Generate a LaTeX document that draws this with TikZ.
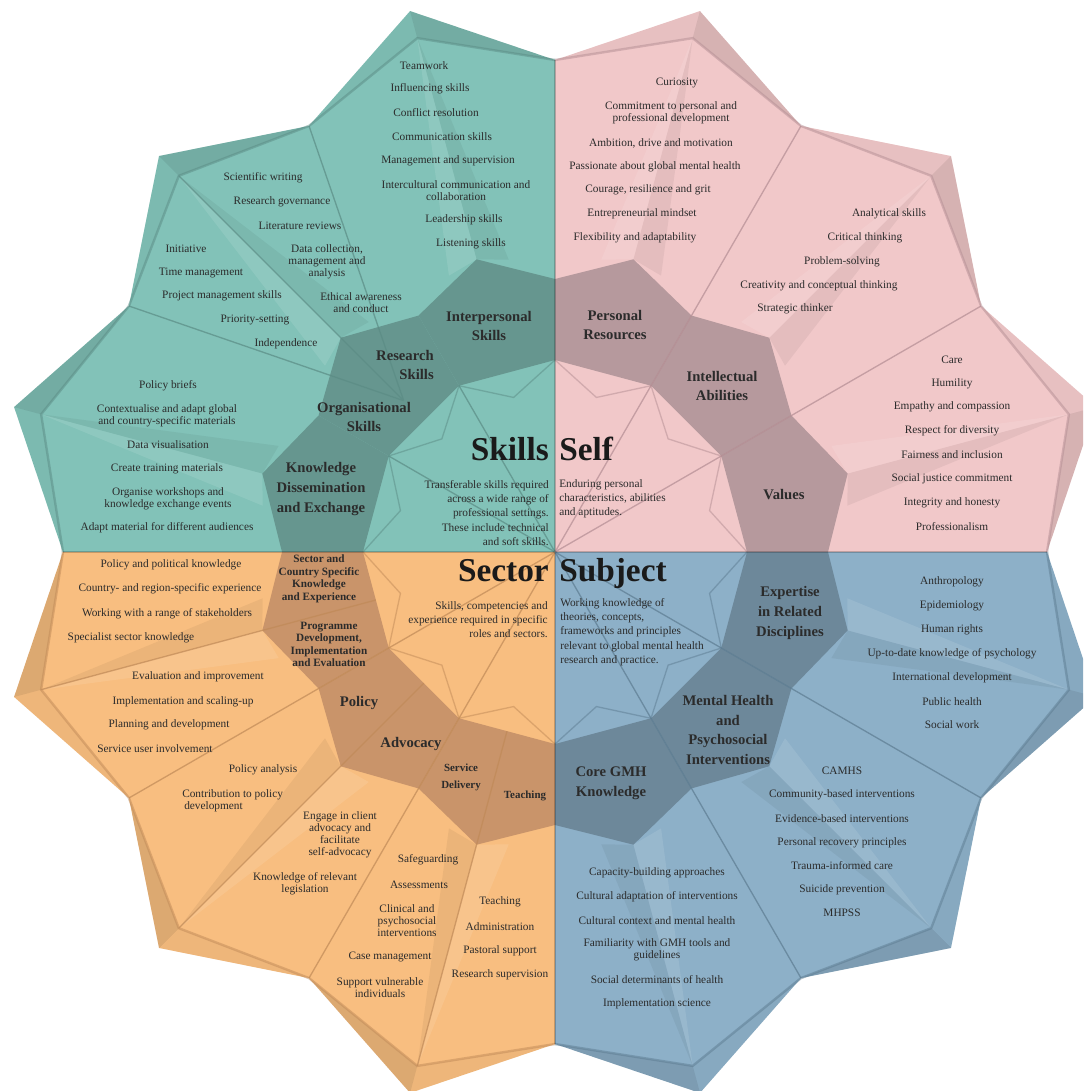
\documentclass[tikz,border=0pt]{standalone}
\usepackage{fontspec}
\setmainfont{Liberation Serif}
\definecolor{tealB}{HTML}{82C2B8}
\definecolor{tealR}{HTML}{66968F}
\definecolor{tealL}{HTML}{5B8C85}
\definecolor{pinkB}{HTML}{F1C8C9}
\definecolor{pinkR}{HTML}{B6999D}
\definecolor{pinkL}{HTML}{B38D93}
\definecolor{orngB}{HTML}{F8BE80}
\definecolor{orngR}{HTML}{C9946A}
\definecolor{orngL}{HTML}{C08A58}
\definecolor{blueB}{HTML}{8DB0C8}
\definecolor{blueR}{HTML}{6D889A}
\definecolor{blueL}{HTML}{5D7C91}
\definecolor{txt}{HTML}{2B2B2B}
\definecolor{hd}{HTML}{1A1A1A}
\begin{document}
\begin{tikzpicture}[x=0.75pt,y=-0.75pt,
  item/.style={font=\fontsize{8.5}{9}\selectfont, text=txt, inner sep=0pt, align=center},
  cat/.style={font=\bfseries\fontsize{11}{14.7}\selectfont, text=txt, inner sep=0pt, align=center},
  scat/.style={font=\bfseries\fontsize{8.4}{9.4}\selectfont, text=txt, inner sep=0pt, align=center},
  head/.style={font=\bfseries\fontsize{25}{28}\selectfont, text=hd, inner sep=0pt},
  desc/.style={font=\fontsize{8.5}{10.7}\selectfont, text=txt, inner sep=0pt},
  fold/.style={line width=1pt, line join=round, opacity=.7},
  rimline/.style={line width=1.8pt, line join=round, opacity=.5},
]
\useasboundingbox (0,0) rectangle (1083,1091);
\fill[white] (0,0) rectangle (1083,1091);
\begin{scope}
\clip (0,0) rectangle (1083,1091);
% ---------- geometry ----------
\begin{scope}[shift={(555,552)},yscale=-1]
\coordinate (O) at (0,0);
\foreach \k in {0,...,12}{
  \coordinate (V\k) at ({30*\k}:492);
  \coordinate (RO\k) at ({30*\k}:273);
  \coordinate (RI\k) at ({30*\k}:192);
}
\foreach \k in {0,...,11}{
  \coordinate (A\k) at ({30*\k+15}:560);
  \coordinate (I\k) at ({30*\k+15}:532);
  \coordinate (RA\k) at ({30*\k+15}:303);
  \coordinate (RM\k) at ({30*\k+15}:185.5);
  \coordinate (Z\k) at ({30*\k+15}:160);
  \coordinate (WL\k) at ({30*\k+21}:296);
  \coordinate (WD\k) at ({30*\k+9}:296);
}
\coordinate (P) at (135:214);
\end{scope}
% ---------- quadrant fills ----------
\fill[pinkB] (O)--(V0)--(A0)--(V1)--(A1)--(V2)--(A2)--(V3)--cycle;
\fill[tealB] (O)--(V3)--(A3)--(V4)--(A4)--(V5)--(A5)--(V6)--cycle;
\fill[orngB] (O)--(V6)--(A6)--(V7)--(A7)--(V8)--(A8)--(V9)--cycle;
\fill[blueB] (O)--(V9)--(A9)--(V10)--(A10)--(V11)--(A11)--(V12)--cycle;
% ---------- rim and ridge shading ----------
\foreach \k in {0,...,11}{
  \pgfmathtruncatemacro\n{\k+1}
  \fill[black,opacity=.11] (V\k)--(A\k)--(I\k)--cycle;
  \fill[black,opacity=.04] (I\k)--(A\k)--(V\n)--cycle;
  \fill[white,opacity=.10] (I\k)--(RA\k)--(WL\k)--cycle;
  \fill[black,opacity=.05] (I\k)--(RA\k)--(WD\k)--cycle;
}
% ---------- inner ring ----------
\foreach \k/\c in {0/pinkR,1/pinkR,2/pinkR,3/tealR,4/tealR,5/tealR,6/orngR,7/orngR,8/orngR,9/blueR,10/blueR,11/blueR}{
  \pgfmathtruncatemacro\n{\k+1}
  \fill[\c] (RI\k)--(RO\k)--(RA\k)--(RO\n)--(RI\n)--cycle;
}
% ---------- fold lines ----------
\draw[rimline,pinkL] (V0)--(I0)--(V1)--(I1)--(V2)--(I2)--(V3);
\draw[rimline,tealL] (V3)--(I3)--(V4)--(I4)--(V5)--(I5)--(V6);
\draw[rimline,orngL] (V6)--(I6)--(V7)--(I7)--(V8)--(I8)--(V9);
\draw[rimline,blueL] (V9)--(I9)--(V10)--(I10)--(V11)--(I11)--(V12);
\draw[fold,pinkL] (V1)--(O) (V2)--(O);
\draw[fold,tealL] (V4)--(P) (V5)--(P) (I4)--(P) (RI4)--(O) (RI5)--(O);
\draw[fold,orngL] (V7)--(O) (V8)--(O) (I6)--(RM6) (I7)--(RM7) (I8)--(RM8);
\draw[fold,blueL] (V10)--(O) (V11)--(O);
\foreach \k/\c in {0/pinkL,1/pinkL,2/pinkL,3/tealL,4/tealL,5/tealL,6/orngL,7/orngL,8/orngL,9/blueL,10/blueL,11/blueL}{
  \pgfmathtruncatemacro\n{\k+1}
  \draw[fold,\c,opacity=.5] (RI\k)--(Z\k)--(RI\n);
}
\draw[black,opacity=.2,line width=0.9pt] (V3)--(V9) (V6)--(V0);
\end{scope}
% ---------- headings ----------
\node[head,anchor=base east] (skills) at (549,460) {Skills};
\node[head,anchor=base west] (self) at (559,460) {Self};
\node[head,anchor=base east] (sector) at (549,581) {Sector};
\node[head,anchor=base west] (subject) at (559,581) {Subject};
\node[desc,align=right,anchor=north east] (skillsd) at (549,480) {Transferable skills required\\across a wide range of\\professional settings.\\These include technical\\and soft skills.};
\node[desc,align=left,anchor=north west] (selfd) at (559,479) {Enduring personal\\characteristics, abilities\\and aptitudes.};
\node[desc,align=right,anchor=north east] (sectord) at (548,601) {Skills, competencies and\\experience required in specific\\roles and sectors.};
\node[desc,align=left,anchor=north west] (subjectd) at (560,598) {Working knowledge of\\theories, concepts,\\frameworks and principles\\relevant to global mental health\\research and practice.};
% ---------- category labels ----------
\node[cat] (lInter) at (489,326) {Interpersonal\\Skills};
\node[cat,align=right,anchor=east] (lRes) at (434,365) {Research\\Skills};
\node[cat] (lOrg) at (364,417) {Organisational\\Skills};
\node[cat] (lKnow) at (321,489) {Knowledge\\Dissemination\\and Exchange};
\node[cat] (lPers) at (615,325) {Personal\\Resources};
\node[cat] (lIntel) at (722,386) {Intellectual\\Abilities};
\node[cat] (lVal) at (784,495) {Values};
\node[scat] (lSec) at (319,579) {Sector and\\Country Specific\\Knowledge\\and Experience};
\node[scat] (lProg) at (329,644.5) {Programme\\Development,\\Implementation\\and Evaluation};
\node[cat] (lPol) at (359,703) {Policy};
\node[cat] (lAdv) at (411,744) {Advocacy};
\node[scat,font=\bfseries\fontsize{8.2}{12.8}\selectfont] (lServ) at (461,777) {Service\\Delivery};
\node[scat,font=\bfseries\fontsize{8.2}{10}\selectfont] (lTeach) at (525,796) {Teaching};
\node[cat] (lExp) at (790,613) {Expertise\\in Related\\Disciplines};
\node[cat] (lMH) at (728,730) {Mental Health\\and\\Psychosocial\\Interventions};
\node[cat] (lCore) at (611,783) {Core GMH\\Knowledge};
% ---------- teal items ----------
\node[item] (ti1) at (424,66) {Teamwork};
\node[item] (ti2) at (430,89) {Influencing skills};
\node[item] (ti3) at (436,113) {Conflict resolution};
\node[item] (ti4) at (442,137) {Communication skills};
\node[item] (ti5) at (448,161) {Management and supervision};
\node[item] (ti6) at (456,191) {Intercultural communication and\\collaboration};
\node[item] (ti7) at (464,220) {Leadership skills};
\node[item] (ti8) at (471,244) {Listening skills};
\node[item] (tr1) at (263,178) {Scientific writing};
\node[item] (tr2) at (282,202) {Research governance};
\node[item] (tr3) at (300,226) {Literature reviews};
\node[item] (tr4) at (327,262) {Data collection,\\management and\\analysis};
\node[item] (tr5) at (361,303) {Ethical awareness\\and conduct};
\node[item] (to1) at (186,249) {Initiative};
\node[item] (to2) at (201,273) {Time management};
\node[item] (to3) at (222,296) {Project management skills};
\node[item] (to4) at (255,320) {Priority-setting};
\node[item] (to5) at (286,344) {Independence};
\node[item] (tk1) at (168,386) {Policy briefs};
\node[item] (tk2) at (167,416) {Contextualise and adapt global\\and country-specific materials};
\node[item] (tk3) at (168,445) {Data visualisation};
\node[item] (tk4) at (167,469) {Create training materials};
\node[item] (tk5) at (168,499) {Organise workshops and\\knowledge exchange events};
\node[item] (tk6) at (167,528) {Adapt material for different audiences};
% ---------- pink items ----------
\node[item] (pp1) at (677,83) {Curiosity};
\node[item] (pp2) at (671,113) {Commitment to personal and\\professional development};
\node[item] (pp3) at (661,143) {Ambition, drive and motivation};
\node[item] (pp4) at (655,167) {Passionate about global mental health};
\node[item] (pp5) at (648,190) {Courage, resilience and grit};
\node[item] (pp6) at (642,214) {Entrepreneurial mindset};
\node[item] (pp7) at (635,238) {Flexibility and adaptability};
\node[item] (pi1) at (889,214) {Analytical skills};
\node[item] (pi2) at (865,238) {Critical thinking};
\node[item] (pi3) at (842,262) {Problem-solving};
\node[item] (pi4) at (819,286) {Creativity and conceptual thinking};
\node[item] (pi5) at (795,309) {Strategic thinker};
\node[item] (pv1) at (952,360) {Care};
\node[item] (pv2) at (952,384) {Humility};
\node[item] (pv3) at (952,407) {Empathy and compassion};
\node[item] (pv4) at (952,431) {Respect for diversity};
\node[item] (pv5) at (952,455) {Fairness and inclusion};
\node[item] (pv6) at (952,479) {Social justice commitment};
\node[item] (pv7) at (952,503) {Integrity and honesty};
\node[item] (pv8) at (952,527) {Professionalism};
% ---------- orange items ----------
\node[item] (os1) at (171,565) {Policy and political knowledge};
\node[item] (os2) at (170,589) {Country- and region-specific experience};
\node[item] (os3) at (167,614) {Working with a range of stakeholders};
\node[item] (os4) at (131,638) {Specialist sector knowledge};
\node[item] (op1) at (198,677) {Evaluation and improvement};
\node[item] (op2) at (183,702) {Implementation and scaling-up};
\node[item] (op3) at (169,725) {Planning and development};
\node[item] (op4) at (155,749) {Service user involvement};
\node[item] (ol1) at (263,770) {Policy analysis};
\node[item,align=left,anchor=west] (ol2) at (182,801) {Contribution to policy\\\hspace{1.5pt}development};
\node[item] (oa1) at (340,835) {Engage in client\\advocacy and\\facilitate\\self-advocacy};
\node[item] (oa2) at (305,884) {Knowledge of relevant\\legislation};
\node[item] (od1) at (428,860) {Safeguarding};
\node[item] (od2) at (419,885) {Assessments};
\node[item] (od3) at (407,921) {Clinical and\\psychosocial\\interventions};
\node[item] (od4) at (390,957) {Case management};
\node[item] (od5) at (380,988) {Support vulnerable\\individuals};
\node[item] (ot1) at (500,902) {Teaching};
\node[item] (ot2) at (500,927) {Administration};
\node[item] (ot3) at (500,951) {Pastoral support};
\node[item] (ot4) at (500,975) {Research supervision};
% ---------- blue items ----------
\node[item] (be1) at (952,582) {Anthropology};
\node[item] (be2) at (952,606) {Epidemiology};
\node[item] (be3) at (952,630) {Human rights};
\node[item] (be4) at (952,654) {Up-to-date knowledge of psychology};
\node[item] (be5) at (952,678) {International development};
\node[item] (be6) at (952,702) {Public health};
\node[item] (be7) at (952,725) {Social work};
\node[item] (bm1) at (842,771) {CAMHS};
\node[item] (bm2) at (842,795) {Community-based interventions};
\node[item] (bm3) at (842,819) {Evidence-based interventions};
\node[item] (bm4) at (842,843) {Personal recovery principles};
\node[item] (bm5) at (842,866) {Trauma-informed care};
\node[item] (bm6) at (842,890) {Suicide prevention};
\node[item] (bm7) at (842,913) {MHPSS};
\node[item] (bc1) at (657,873) {Capacity-building approaches};
\node[item] (bc2) at (657,897) {Cultural adaptation of interventions};
\node[item] (bc3) at (657,921) {Cultural context and mental health};
\node[item] (bc4) at (657,950) {Familiarity with GMH tools and\\guidelines};
\node[item] (bc5) at (657,980) {Social determinants of health};
\node[item] (bc6) at (657,1004) {Implementation science};
\end{tikzpicture}
\end{document}
